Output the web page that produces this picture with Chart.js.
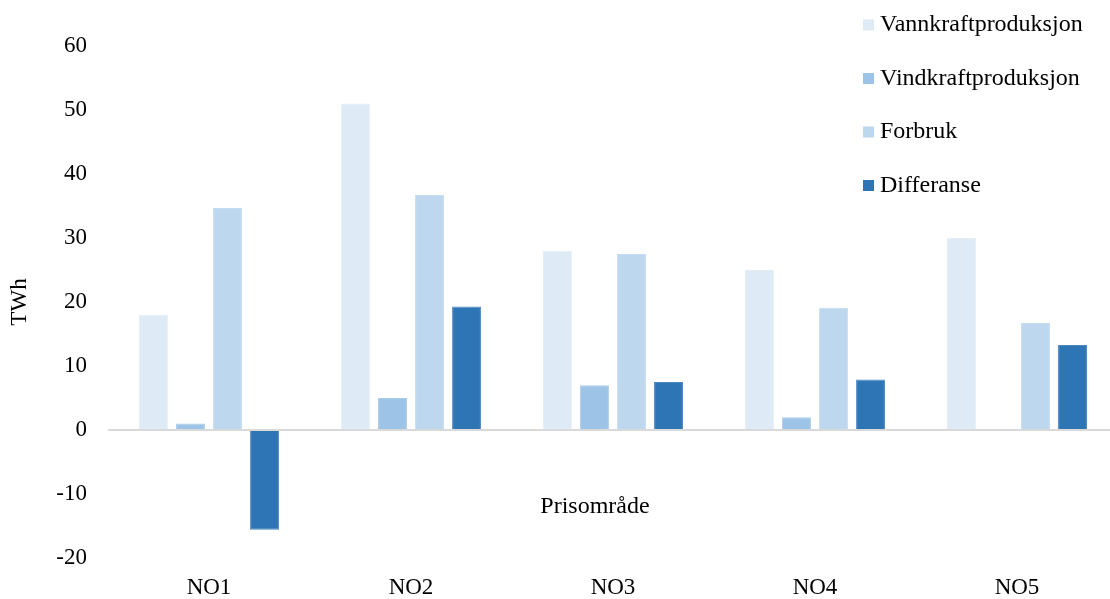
<!DOCTYPE html>
<html>
<head>
<meta charset="utf-8">
<script src="https://cdn.jsdelivr.net/npm/chart.js@4/dist/chart.umd.min.js"></script>
<style>
  html, body { margin: 0; padding: 0; background: #fff; overflow: hidden; }
  #wrap { width: 1120px; height: 599px; }
</style>
</head>
<body>
<div id="wrap"><canvas id="c" width="1120" height="599"></canvas></div>
<script>
// Prisområder og tall i TWh
const categories = ['NO1', 'NO2', 'NO3', 'NO4', 'NO5'];
const vannkraft  = [18, 51, 28, 25, 30];
const vindkraft  = [1, 5, 7, 2, 0];
const forbruk    = [34.7, 36.7, 27.5, 19.1, 16.7];
const differanse = [-15.6, 19.3, 7.5, 7.9, 13.3];

const seriesNames = ['Vannkraftproduksjon', 'Vindkraftproduksjon', 'Forbruk', 'Differanse'];
const yAxisTitle = 'TWh';
const xAxisTitle = 'Prisområde';
const yMin = -20, yMax = 60, yStep = 10;

const FONT = '"Liberation Serif", "Times New Roman", serif';
const fills   = ['#DEEAF6', '#9DC3E6', '#BDD7EE', '#2E75B6'];
const borders = ['#E6EFF8', '#A9CAE9', '#C6DCF0', '#4A86C0'];

const datasets = [vannkraft, vindkraft, forbruk, differanse].map((d, i) => ({
  label: seriesNames[i],
  data: d,
  backgroundColor: fills[i],
  borderColor: borders[i],
  borderWidth: 1,
  categoryPercentage: 0.733,
  barPercentage: 0.78
}));

// Legende oppe til høyre og aksetittel under nullinjen
const overlay = {
  id: 'overlay',
  afterDraw(chart) {
    const ctx = chart.ctx;
    const y = chart.scales.y;
    ctx.save();
    ctx.font = '24px ' + FONT;
    ctx.fillStyle = '#000';
    ctx.textBaseline = 'middle';
    ctx.textAlign = 'center';
    ctx.fillText(xAxisTitle, 595, y.getPixelForValue(-12));
    ctx.textAlign = 'left';
    chart.data.datasets.forEach((ds, i) => {
      const cy = 25 + i * 53.5;
      ctx.fillStyle = ds.backgroundColor;
      ctx.fillRect(863, cy - 5.5, 11, 11);
      ctx.fillStyle = '#000';
      ctx.fillText(ds.label, 880, cy);
    });
    ctx.restore();
  }
};

new Chart(document.getElementById('c'), {
  type: 'bar',
  data: { labels: categories, datasets },
  plugins: [overlay],
  options: {
    responsive: false,
    animation: false,
    devicePixelRatio: 1,
    layout: { padding: { top: 46, right: 2, left: 0, bottom: 0 } },
    plugins: {
      legend: { display: false },
      tooltip: { enabled: false }
    },
    scales: {
      x: {
        grid: { display: false },
        border: { display: false },
        ticks: { color: '#000', font: { family: FONT, size: 23 }, padding: 8 },
        afterFit(s) { s.height = 41; }
      },
      y: {
        min: yMin,
        max: yMax,
        border: { display: false },
        grid: {
          drawTicks: false,
          lineWidth: 2,
          color: (c) => (c.tick && c.tick.value === 0 ? '#D9D9D9' : 'rgba(0,0,0,0)')
        },
        ticks: {
          stepSize: yStep,
          color: '#000',
          font: { family: FONT, size: 23 },
          padding: 21
        },
        title: {
          display: true,
          text: yAxisTitle,
          color: '#000',
          font: { family: FONT, size: 23 },
          padding: { top: 6, bottom: 0 }
        },
        afterFit(s) { s.width = 108; }
      }
    }
  }
});
</script>
</body>
</html>
